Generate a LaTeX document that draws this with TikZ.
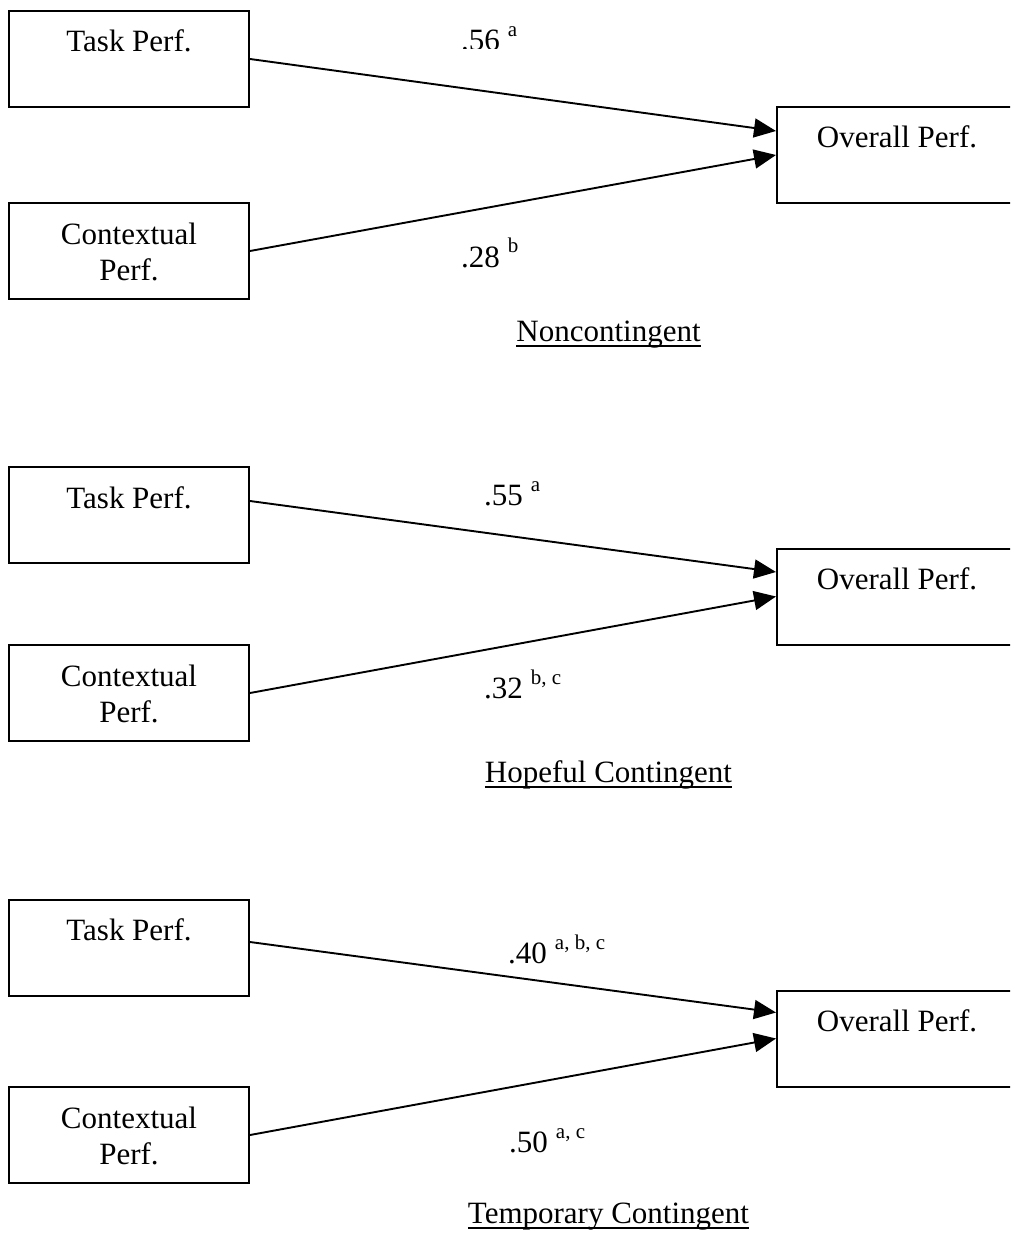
\documentclass[tikz,border=0pt]{standalone}
\usepackage{fontspec}
\setmainfont{Liberation Serif}
\usetikzlibrary{arrows.meta,calc}
\newcommand{\supx}[1]{\raisebox{14pt}{\fontsize{21}{23}\selectfont #1}}
\newcommand{\coefx}[2]{#1\hspace{8pt}\supx{#2}}
\begin{document}
\begin{tikzpicture}[x=1pt,y=-1pt,
  box/.style={draw, line width=2pt, minimum width=240pt, minimum height=96pt, inner sep=0pt},
  txt/.style={font=\fontsize{31}{35.5}\selectfont, inner sep=0pt, anchor=base},
  arr/.style={line width=1.9pt, -{Triangle[length=22pt,width=19pt]}},
  coef/.style={font=\fontsize{31}{35.5}\selectfont, inner sep=0pt, anchor=base west},
  uline/.style={line width=1.8pt}]
\clip (0,0) rectangle (1010,1233);
\fill[white] (0,0) rectangle (1010,1233);

% ---------- Panel 1: Noncontingent ----------
\node[box] (t1) at (129,59) {};
\node[txt] (t1l) at (129,52) {Task Perf.};
\node[box] (c1) at (129,251) {};
\node[txt] (c1a) at (129,244) {Contextual};
\node[txt] (c1b) at (129,280) {Perf.};
\node[box] (o1) at (897,155) {};
\node[txt] (o1l) at (897,148) {Overall Perf.};
\coordinate (o1u) at ($(o1.west)+(0,-24)$);
\draw[arr] (t1.east) -- (o1u);
\draw[arr] (c1.east) -- (o1.west);
\begin{scope}
  \clip (400,0) rectangle (600,48.5);
  \node[coef] (l1a) at (461,51) {\coefx{.56}{a}};
\end{scope}
\node[coef] (l1b) at (461,267) {\coefx{.28}{b}};
\node[txt] (n1) at (608.5,341) {Noncontingent};
\draw[uline] ([yshift=-5pt]n1.base west) -- ([yshift=-5pt]n1.base east);

% ---------- Panel 2: Hopeful Contingent ----------
\node[box] (t2) at (129,515) {};
\node[txt] (t2l) at (129,508) {Task Perf.};
\node[box] (c2) at (129,693) {};
\node[txt] (c2a) at (129,686) {Contextual};
\node[txt] (c2b) at (129,722) {Perf.};
\node[box] (o2) at (897,596.5) {};
\node[txt] (o2l) at (897,589.5) {Overall Perf.};
\coordinate (t2s) at ($(t2.east)+(0,-14)$);
\coordinate (o2u) at ($(o2.west)+(0,-24.5)$);
\draw[arr] (t2s) -- (o2u);
\draw[arr] (c2.east) -- (o2.west);
\node[coef] (l2a) at (484,505) {\coefx{.55}{a}};
\node[coef] (l2b) at (484,698) {\coefx{.32}{b, c}};
\node[txt] (n2) at (608.5,782) {Hopeful Contingent};
\draw[uline] ([yshift=-5pt]n2.base west) -- ([yshift=-5pt]n2.base east);

% ---------- Panel 3: Temporary Contingent ----------
\node[box] (t3) at (129,947.5) {};
\node[txt] (t3l) at (129,940) {Task Perf.};
\node[box] (c3) at (129,1135) {};
\node[txt] (c3a) at (129,1128) {Contextual};
\node[txt] (c3b) at (129,1164) {Perf.};
\node[box] (o3) at (897,1038.5) {};
\node[txt] (o3l) at (897,1031.5) {Overall Perf.};
\coordinate (t3s) at ($(t3.east)+(0,-5.5)$);
\coordinate (o3u) at ($(o3.west)+(0,-26)$);
\draw[arr] (t3s) -- (o3u);
\draw[arr] (c3.east) -- (o3.west);
\node[coef] (l3a) at (508,963) {\coefx{.40}{a, b, c}};
\node[coef] (l3b) at (509,1152) {\coefx{.50}{a, c}};
\node[txt] (n3) at (608.5,1223) {Temporary Contingent};
\draw[uline] ([yshift=-5pt]n3.base west) -- ([yshift=-5pt]n3.base east);
\end{tikzpicture}
\end{document}
